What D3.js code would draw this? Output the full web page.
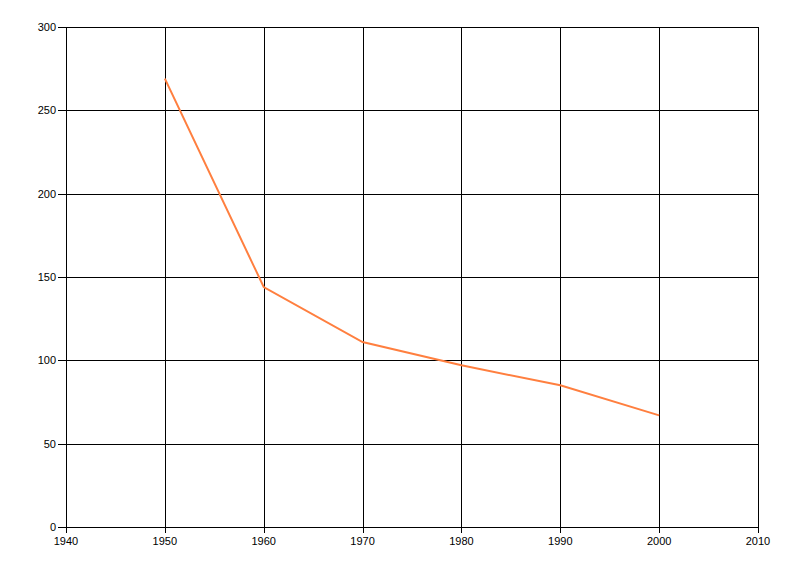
<!DOCTYPE html>
<html>
<head>
<meta charset="utf-8">
<script src="https://cdn.jsdelivr.net/npm/d3@7"></script>
<style>
  body { margin: 0; background: #fff; }
  text { font-family: "Liberation Sans", Arial, sans-serif; font-size: 11px; fill: #000; }
</style>
</head>
<body>
<svg id="chart"></svg>
<script>
// data
var years = [1950, 1960, 1970, 1980, 1990, 2000];
var values = [269, 144, 111, 97, 85, 67];
var xTicks = [1940, 1950, 1960, 1970, 1980, 1990, 2000, 2010];
var yTicks = [0, 50, 100, 150, 200, 250, 300];

var width = 800, height = 576;
var plotLeft = 66, plotRight = 758, plotTop = 27, plotBottom = 527;

var svg = d3.select("#chart")
    .attr("width", width)
    .attr("height", height);

var x = d3.scaleLinear().domain([1940, 2010]).range([plotLeft, plotRight]);
var y = d3.scaleLinear().domain([0, 300]).range([plotBottom, plotTop]);

// horizontal grid lines + y ticks
svg.append("g").selectAll("line")
    .data(yTicks)
    .enter().append("line")
    .attr("x1", plotLeft - 8)
    .attr("x2", plotRight)
    .attr("y1", function (d) { return Math.round(y(d)) + 0.5; })
    .attr("y2", function (d) { return Math.round(y(d)) + 0.5; })
    .attr("stroke", "#000")
    .attr("stroke-width", 1);

// vertical grid lines + x ticks
svg.append("g").selectAll("line")
    .data(xTicks)
    .enter().append("line")
    .attr("x1", function (d) { return Math.round(x(d)) + 0.5; })
    .attr("x2", function (d) { return Math.round(x(d)) + 0.5; })
    .attr("y1", plotTop)
    .attr("y2", plotBottom + 6)
    .attr("stroke", "#000")
    .attr("stroke-width", 1);

// y labels
svg.append("g").selectAll("text")
    .data(yTicks)
    .enter().append("text")
    .attr("x", plotLeft - 10)
    .attr("y", function (d) { return y(d) + 4; })
    .attr("text-anchor", "end")
    .text(function (d) { return d; });

// x labels
svg.append("g").selectAll("text")
    .data(xTicks)
    .enter().append("text")
    .attr("x", function (d) { return x(d); })
    .attr("y", plotBottom + 18)
    .attr("text-anchor", "middle")
    .text(function (d) { return d; });

// the line
var line = d3.line()
    .x(function (d, i) { return x(years[i]); })
    .y(function (d) { return y(d); });

svg.append("path")
    .datum(values)
    .attr("d", line)
    .attr("fill", "none")
    .attr("stroke", "#ff7f3f")
    .attr("stroke-width", 2);
</script>
</body>
</html>
